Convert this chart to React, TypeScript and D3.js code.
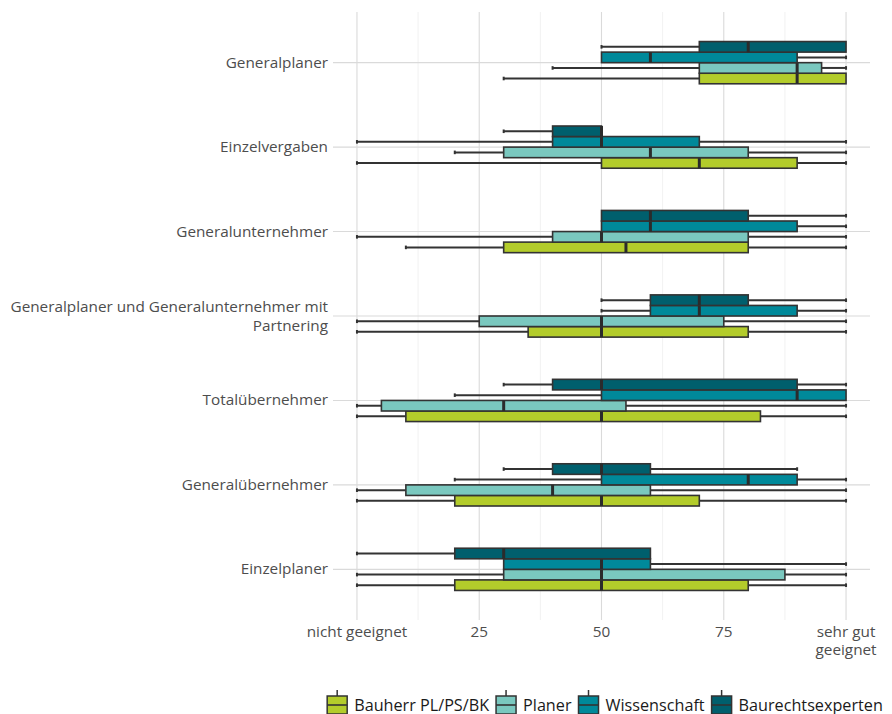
import React, { useEffect, useRef } from "react";
import * as d3 from "d3";

const categories = [
  "Generalplaner",
  "Einzelvergaben",
  "Generalunternehmer",
  "Generalplaner und Generalunternehmer mit Partnering",
  "Totalübernehmer",
  "Generalübernehmer",
  "Einzelplaner",
];
const categoryLines: Record<string, string[]> = {
  "Generalplaner und Generalunternehmer mit Partnering": ["Generalplaner und Generalunternehmer mit", "Partnering"],
};
const groups = ["Bauherr PL/PS/BK", "Planer", "Wissenschaft", "Baurechtsexperten"];
const colors = ["#b3cc2b", "#7ac8bf", "#00899a", "#005f6d"];

// [min, q1, median, q3, max] per category (same order as categories)
const bauherr = [
  [30, 70, 90, 100, 100],
  [0, 50, 70, 90, 100],
  [10, 30, 55, 80, 100],
  [0, 35, 50, 80, 100],
  [0, 10, 50, 82.5, 100],
  [0, 20, 50, 70, 100],
  [0, 20, 50, 80, 100],
];
const planer = [
  [40, 70, 90, 95, 100],
  [20, 30, 60, 80, 100],
  [0, 40, 50, 80, 100],
  [0, 25, 50, 75, 100],
  [0, 5, 30, 55, 100],
  [0, 10, 40, 60, 100],
  [0, 30, 50, 87.5, 100],
];
const wissenschaft = [
  [50, 50, 60, 90, 100],
  [0, 40, 50, 70, 100],
  [50, 50, 60, 90, 100],
  [50, 60, 70, 90, 100],
  [20, 50, 90, 100, 100],
  [20, 50, 80, 90, 100],
  [30, 30, 50, 60, 100],
];
const baurecht = [
  [50, 70, 80, 100, 100],
  [30, 40, 50, 50, 50],
  [50, 50, 60, 80, 100],
  [50, 60, 70, 80, 100],
  [30, 40, 50, 90, 100],
  [30, 40, 50, 60, 90],
  [0, 20, 30, 60, 60],
];
const series = [bauherr, planer, wissenschaft, baurecht];

const tickValues = [0, 25, 50, 75, 100];
const tickLabels = [["nicht geeignet"], ["25"], ["50"], ["75"], ["sehr gut", "geeignet"]];
const minorTicks = [12.5, 37.5, 62.5, 87.5];

const W = 892;
const H = 714;
const FONT = "'Open Sans', 'Noto Sans', sans-serif";
const FS = 15.3;
const LFS = 16.2;

export default function App() {
  const ref = useRef<SVGSVGElement>(null);

  useEffect(() => {
    const svg = d3.select(ref.current);
    svg.selectAll("*").remove();

    const panel = { left: 333, right: 870, top: 12, bottom: 620 };
    const xs = d3.scaleLinear().domain([-5, 105]).range([panel.left - 0.5, panel.right + 0.5]);
    const ys = d3
      .scaleLinear()
      .domain([-0.6, categories.length - 1 + 0.6])
      .range([panel.top, panel.bottom]);
    const unit = ys(1) - ys(0);
    const boxH = unit * 0.125;

    const g = svg.append("g");
    g.selectAll("line.minor")
      .data(minorTicks)
      .join("line")
      .attr("x1", (d) => xs(d))
      .attr("x2", (d) => xs(d))
      .attr("y1", panel.top)
      .attr("y2", panel.bottom)
      .attr("stroke", "#ebebeb")
      .attr("stroke-width", 0.7);
    g.selectAll("line.major")
      .data(tickValues)
      .join("line")
      .attr("x1", (d) => xs(d))
      .attr("x2", (d) => xs(d))
      .attr("y1", panel.top)
      .attr("y2", panel.bottom)
      .attr("stroke", "#dadada")
      .attr("stroke-width", 1.1);
    g.selectAll("line.hgrid")
      .data(categories)
      .join("line")
      .attr("x1", panel.left)
      .attr("x2", panel.right)
      .attr("y1", (_d, i) => ys(i))
      .attr("y2", (_d, i) => ys(i))
      .attr("stroke", "#dadada")
      .attr("stroke-width", 1.1);

    const offsets = [0.1875, 0.0625, -0.0625, -0.1875];
    series.forEach((data, si) => {
      const sg = svg.append("g");
      data.forEach((s, ci) => {
        const [mn, q1, md, q3, mx] = s;
        const cy = ys(ci) + offsets[si] * unit;
        const stroke = "#333333";
        if (q1 > mn) {
          sg.append("line").attr("x1", xs(mn)).attr("x2", xs(q1)).attr("y1", cy).attr("y2", cy)
            .attr("stroke", stroke).attr("stroke-width", 2);
          sg.append("line").attr("x1", xs(mn)).attr("x2", xs(mn)).attr("y1", cy - 1.8).attr("y2", cy + 1.8)
            .attr("stroke", stroke).attr("stroke-width", 2);
        }
        if (mx > q3) {
          sg.append("line").attr("x1", xs(q3)).attr("x2", xs(mx)).attr("y1", cy).attr("y2", cy)
            .attr("stroke", stroke).attr("stroke-width", 2);
          sg.append("line").attr("x1", xs(mx)).attr("x2", xs(mx)).attr("y1", cy - 1.8).attr("y2", cy + 1.8)
            .attr("stroke", stroke).attr("stroke-width", 2);
        }
        sg.append("rect")
          .attr("x", xs(q1))
          .attr("y", cy - boxH / 2)
          .attr("width", xs(q3) - xs(q1))
          .attr("height", boxH)
          .attr("fill", colors[si])
          .attr("stroke", stroke)
          .attr("stroke-width", 1.6);
        sg.append("line").attr("x1", xs(md)).attr("x2", xs(md))
          .attr("y1", cy - boxH / 2).attr("y2", cy + boxH / 2)
          .attr("stroke", "#2b2b2b").attr("stroke-width", 3);
      });
    });

    const yl = svg.append("g").attr("font-family", FONT).attr("font-size", FS).attr("fill", "#4d4d4d");
    categories.forEach((c, i) => {
      const lines = categoryLines[c] || [c];
      const lh = 19;
      const t = yl.append("text").attr("text-anchor", "end");
      lines.forEach((ln, j) => {
        t.append("tspan")
          .attr("x", panel.left - 5)
          .attr("y", ys(i) + 5 + (j - (lines.length - 1) / 2) * lh)
          .text(ln);
      });
    });

    const xl = svg.append("g").attr("font-family", FONT).attr("font-size", FS).attr("fill", "#4d4d4d");
    tickValues.forEach((v, i) => {
      const t = xl.append("text").attr("text-anchor", "middle");
      tickLabels[i].forEach((ln, j) => {
        t.append("tspan").attr("x", xs(v)).attr("y", 637 + j * 18).text(ln);
      });
    });

    const lg = svg.append("g").attr("font-family", FONT).attr("font-size", LFS).attr("fill", "#1a1a1a");
    const keyW = 22, keyH = 18, gap = 6, itemGap = 6;
    const items: { w: number; node: any }[] = [];
    groups.forEach((name, i) => {
      const it = lg.append("g");
      const ky = 696;
      it.append("line").attr("x1", keyW / 2).attr("x2", keyW / 2).attr("y1", ky - 6).attr("y2", ky + keyH + 6)
        .attr("stroke", "#333").attr("stroke-width", 1.5);
      it.append("rect").attr("x", 1).attr("y", ky).attr("width", keyW - 2).attr("height", keyH)
        .attr("fill", colors[i]).attr("stroke", "#333").attr("stroke-width", 1.5);
      it.append("line").attr("x1", 1).attr("x2", keyW - 1).attr("y1", ky + keyH / 2).attr("y2", ky + keyH / 2)
        .attr("stroke", "#333").attr("stroke-width", 1.6);
      const t = it.append("text").attr("x", keyW + gap).attr("y", ky + keyH / 2 + 5.5).text(name);
      const tw = (t.node() as SVGTextElement).getComputedTextLength();
      items.push({ w: keyW + gap + tw, node: it });
    });
    const total = d3.sum(items, (d) => d.w) + itemGap * (items.length - 1);
    let cx = 604.5 - total / 2;
    items.forEach((it) => {
      it.node.attr("transform", `translate(${cx},0)`);
      cx += it.w + itemGap;
    });
  }, []);

  return (
    <svg
      ref={ref}
      width={W}
      height={H}
      style={{ position: "absolute", left: 0, top: 0, background: "#ffffff" }}
    />
  );
}
